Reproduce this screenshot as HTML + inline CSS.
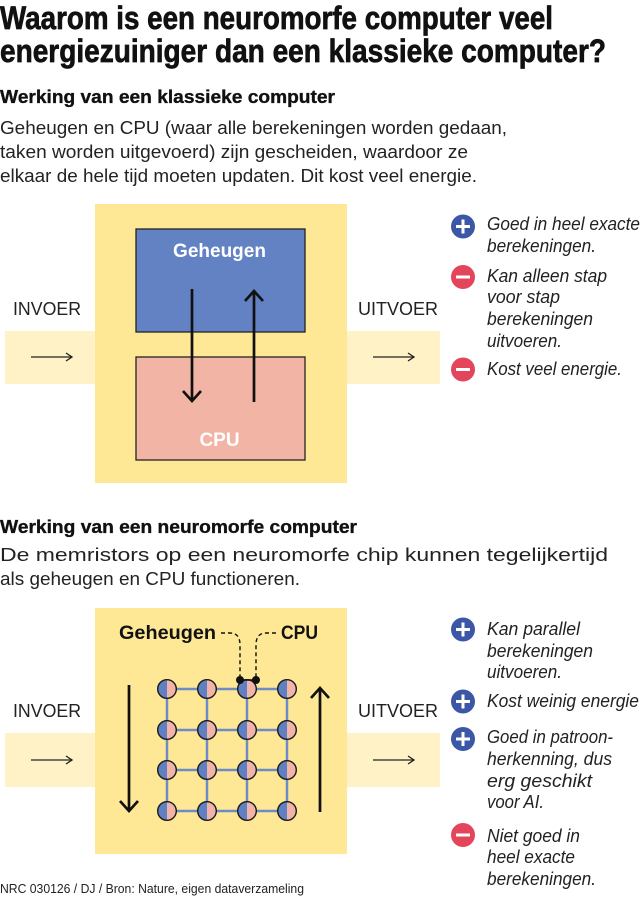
<!DOCTYPE html>
<html>
<head>
<meta charset="utf-8">
<style>
  html,body{margin:0;padding:0;background:#fff;}
  svg{display:block;}
  .t{font-family:"Liberation Sans",sans-serif;}
</style>
</head>
<body>
<svg width="640" height="897" viewBox="0 0 640 897" xmlns="http://www.w3.org/2000/svg">
  <rect width="640" height="897" fill="#ffffff"/>

  <!-- Title -->
  <text class="t" x="0" y="29" font-size="32" font-weight="bold" fill="#111" stroke="#111" stroke-width="0.7" textLength="553" lengthAdjust="spacingAndGlyphs">Waarom is een neuromorfe computer veel</text>
  <text class="t" x="0" y="62" font-size="32" font-weight="bold" fill="#111" stroke="#111" stroke-width="0.7" textLength="606" lengthAdjust="spacingAndGlyphs">energiezuiniger dan een klassieke computer?</text>

  <!-- Section 1 heading -->
  <text class="t" x="0" y="103" font-size="18.5" font-weight="bold" fill="#111" stroke="#111" stroke-width="0.35" textLength="335" lengthAdjust="spacingAndGlyphs">Werking van een klassieke computer</text>
  <text class="t" x="0" y="134" font-size="18" fill="#222" textLength="507" lengthAdjust="spacingAndGlyphs">Geheugen en CPU (waar alle berekeningen worden gedaan,</text>
  <text class="t" x="0" y="158" font-size="18" fill="#222" textLength="468" lengthAdjust="spacingAndGlyphs">taken worden uitgevoerd) zijn gescheiden, waardoor ze</text>
  <text class="t" x="0" y="182" font-size="18" fill="#222" textLength="477" lengthAdjust="spacingAndGlyphs">elkaar de hele tijd moeten updaten. Dit kost veel energie.</text>

  <!-- Classic diagram -->
  <rect x="5" y="331" width="90" height="53" fill="#fef2c6"/>
  <rect x="347" y="331" width="93" height="53" fill="#fef2c6"/>
  <rect x="95" y="204" width="252" height="279" fill="#fee895"/>

  <text class="t" x="13" y="315" font-size="18" fill="#222" textLength="68" lengthAdjust="spacingAndGlyphs">INVOER</text>
  <text class="t" x="358" y="315" font-size="18" fill="#222" textLength="80" lengthAdjust="spacingAndGlyphs">UITVOER</text>

  <g stroke="#222" stroke-width="1.3" fill="none">
    <line x1="31" y1="357" x2="72" y2="357"/>
    <polyline points="66,353 72,357 66,361"/>
    <line x1="373" y1="357" x2="414" y2="357"/>
    <polyline points="408,353 414,357 408,361"/>
  </g>

  <rect x="136" y="229" width="169" height="103" fill="#6382c4" stroke="#222" stroke-width="1.3"/>
  <rect x="136" y="357" width="169" height="103" fill="#f2b5a5" stroke="#222" stroke-width="1.3"/>
  <text class="t" x="219.5" y="257" font-size="19" font-weight="bold" fill="#fff" text-anchor="middle">Geheugen</text>
  <text class="t" x="219.5" y="446" font-size="19" font-weight="bold" fill="#fff" text-anchor="middle">CPU</text>

  <g stroke="#111" stroke-width="2.7" fill="none" stroke-linecap="butt">
    <line x1="192" y1="289" x2="192" y2="400"/>
    <polyline points="183,391 192,401 201,391" stroke-linejoin="miter"/>
    <line x1="254" y1="292" x2="254" y2="402"/>
    <polyline points="245,301 254,291 263,301" stroke-linejoin="miter"/>
  </g>

  <!-- Classic list -->
  <circle cx="463" cy="226.5" r="12" fill="#3c57a6"/>
  <rect x="456" y="225" width="14" height="3" fill="#fff"/>
  <rect x="461.5" y="219.5" width="3" height="14" fill="#fff"/>
  <text class="t" x="487" y="230" font-size="18.5" font-style="italic" fill="#222" textLength="153" lengthAdjust="spacingAndGlyphs">Goed in heel exacte</text>
  <text class="t" x="487" y="252" font-size="18.5" font-style="italic" fill="#222" textLength="109" lengthAdjust="spacingAndGlyphs">berekeningen.</text>

  <circle cx="463" cy="277" r="12" fill="#e3465b"/>
  <rect x="456" y="275.5" width="14" height="3" fill="#fff"/>
  <text class="t" x="487" y="282" font-size="18.5" font-style="italic" fill="#222" textLength="120" lengthAdjust="spacingAndGlyphs">Kan alleen stap</text>
  <text class="t" x="487" y="303" font-size="18.5" font-style="italic" fill="#222" textLength="73" lengthAdjust="spacingAndGlyphs">voor stap</text>
  <text class="t" x="487" y="325" font-size="18.5" font-style="italic" fill="#222" textLength="106" lengthAdjust="spacingAndGlyphs">berekeningen</text>
  <text class="t" x="487" y="347" font-size="18.5" font-style="italic" fill="#222" textLength="75" lengthAdjust="spacingAndGlyphs">uitvoeren.</text>

  <circle cx="463" cy="369.5" r="12" fill="#e3465b"/>
  <rect x="456" y="368" width="14" height="3" fill="#fff"/>
  <text class="t" x="487" y="375" font-size="18.5" font-style="italic" fill="#222" textLength="135" lengthAdjust="spacingAndGlyphs">Kost veel energie.</text>

  <!-- Section 2 heading -->
  <text class="t" x="0" y="533" font-size="18.5" font-weight="bold" fill="#111" stroke="#111" stroke-width="0.35" textLength="357" lengthAdjust="spacingAndGlyphs">Werking van een neuromorfe computer</text>
  <text class="t" x="0" y="561" font-size="18" fill="#222" textLength="608" lengthAdjust="spacingAndGlyphs">De memristors op een neuromorfe chip kunnen tegelijkertijd</text>
  <text class="t" x="0" y="585" font-size="18" fill="#222" textLength="300" lengthAdjust="spacingAndGlyphs">als geheugen en CPU functioneren.</text>

  <!-- Neuro diagram -->
  <rect x="5" y="733" width="90" height="54" fill="#fef2c6"/>
  <rect x="347" y="733" width="93" height="54" fill="#fef2c6"/>
  <rect x="95" y="608" width="252" height="246" fill="#fee895"/>

  <text class="t" x="13" y="717" font-size="18" fill="#222" textLength="68" lengthAdjust="spacingAndGlyphs">INVOER</text>
  <text class="t" x="358" y="717" font-size="18" fill="#222" textLength="80" lengthAdjust="spacingAndGlyphs">UITVOER</text>

  <g stroke="#222" stroke-width="1.3" fill="none">
    <line x1="31" y1="760" x2="72" y2="760"/>
    <polyline points="66,756 72,760 66,764"/>
    <line x1="373" y1="760" x2="414" y2="760"/>
    <polyline points="408,756 414,760 408,764"/>
  </g>

  <text class="t" x="119" y="639" font-size="19" font-weight="bold" fill="#111" textLength="97" lengthAdjust="spacingAndGlyphs">Geheugen</text>
  <text class="t" x="281" y="639" font-size="19" font-weight="bold" fill="#111" textLength="37" lengthAdjust="spacingAndGlyphs">CPU</text>

  <g stroke="#111" stroke-width="1.4" fill="none" stroke-dasharray="4 3">
    <path d="M221,633 L230,633 Q240,633 240,645 L240,678"/>
    <path d="M276,633 L266,633 Q256,633 256,645 L256,678"/>
  </g>

  <!-- grid lines -->
  <g stroke="#6d8bc6" stroke-width="2.5">
    <line x1="167" y1="689" x2="287" y2="689"/>
    <line x1="167" y1="730" x2="287" y2="730"/>
    <line x1="167" y1="770" x2="287" y2="770"/>
    <line x1="167" y1="811" x2="287" y2="811"/>
    <line x1="167" y1="689" x2="167" y2="811"/>
    <line x1="207" y1="689" x2="207" y2="811"/>
    <line x1="247" y1="689" x2="247" y2="811"/>
    <line x1="287" y1="689" x2="287" y2="811"/>
  </g>

  <defs>
    <g id="m">
      <path d="M0,-9.3 A9.3,9.3 0 0 0 0,9.3 Z" fill="#6080c2"/>
      <path d="M0,-9.3 A9.3,9.3 0 0 1 0,9.3 Z" fill="#f2b3a8"/>
      <circle r="9.3" fill="none" stroke="#1a1a1a" stroke-width="1.4"/>
    </g>
  </defs>
  <use href="#m" x="167" y="689"/><use href="#m" x="207" y="689"/><use href="#m" x="247" y="689"/><use href="#m" x="287" y="689"/>
  <use href="#m" x="167" y="730"/><use href="#m" x="207" y="730"/><use href="#m" x="247" y="730"/><use href="#m" x="287" y="730"/>
  <use href="#m" x="167" y="770"/><use href="#m" x="207" y="770"/><use href="#m" x="247" y="770"/><use href="#m" x="287" y="770"/>
  <use href="#m" x="167" y="811"/><use href="#m" x="207" y="811"/><use href="#m" x="247" y="811"/><use href="#m" x="287" y="811"/>

  <line x1="240" y1="680" x2="256" y2="680" stroke="#111" stroke-width="1.6"/>
  <circle cx="240" cy="680" r="4" fill="#111"/>
  <circle cx="256" cy="680" r="4" fill="#111"/>

  <g stroke="#111" stroke-width="2.7" fill="none">
    <line x1="129" y1="685" x2="129" y2="810"/>
    <polyline points="120,801 129,811 138,801"/>
    <line x1="320" y1="689" x2="320" y2="812"/>
    <polyline points="311,698 320,688 329,698"/>
  </g>

  <!-- Neuro list -->
  <circle cx="463" cy="629.5" r="12" fill="#3c57a6"/>
  <rect x="456" y="628" width="14" height="3" fill="#fff"/>
  <rect x="461.5" y="622.5" width="3" height="14" fill="#fff"/>
  <text class="t" x="487" y="635" font-size="18.5" font-style="italic" fill="#222" textLength="93" lengthAdjust="spacingAndGlyphs">Kan parallel</text>
  <text class="t" x="487" y="657" font-size="18.5" font-style="italic" fill="#222" textLength="106" lengthAdjust="spacingAndGlyphs">berekeningen</text>
  <text class="t" x="487" y="678" font-size="18.5" font-style="italic" fill="#222" textLength="75" lengthAdjust="spacingAndGlyphs">uitvoeren.</text>

  <circle cx="463" cy="701.5" r="12" fill="#3c57a6"/>
  <rect x="456" y="700" width="14" height="3" fill="#fff"/>
  <rect x="461.5" y="694.5" width="3" height="14" fill="#fff"/>
  <text class="t" x="487" y="707" font-size="18.5" font-style="italic" fill="#222" textLength="152" lengthAdjust="spacingAndGlyphs">Kost weinig energie</text>

  <circle cx="463" cy="739" r="12" fill="#3c57a6"/>
  <rect x="456" y="737.5" width="14" height="3" fill="#fff"/>
  <rect x="461.5" y="732" width="3" height="14" fill="#fff"/>
  <text class="t" x="487" y="743" font-size="18.5" font-style="italic" fill="#222" textLength="126" lengthAdjust="spacingAndGlyphs">Goed in patroon-</text>
  <text class="t" x="487" y="765" font-size="18.5" font-style="italic" fill="#222" textLength="125" lengthAdjust="spacingAndGlyphs">herkenning, dus</text>
  <text class="t" x="487" y="787" font-size="18.5" font-style="italic" fill="#222" textLength="105" lengthAdjust="spacingAndGlyphs">erg geschikt</text>
  <text class="t" x="487" y="808" font-size="18.5" font-style="italic" fill="#222" textLength="57" lengthAdjust="spacingAndGlyphs">voor AI.</text>

  <circle cx="463" cy="835" r="12" fill="#e3465b"/>
  <rect x="456" y="833.5" width="14" height="3" fill="#fff"/>
  <text class="t" x="487" y="842" font-size="18.5" font-style="italic" fill="#222" textLength="93" lengthAdjust="spacingAndGlyphs">Niet goed in</text>
  <text class="t" x="487" y="863" font-size="18.5" font-style="italic" fill="#222" textLength="88" lengthAdjust="spacingAndGlyphs">heel exacte</text>
  <text class="t" x="487" y="885" font-size="18.5" font-style="italic" fill="#222" textLength="109" lengthAdjust="spacingAndGlyphs">berekeningen.</text>

  <!-- Footer -->
  <text class="t" x="0" y="893" font-size="12.5" fill="#222" textLength="304" lengthAdjust="spacingAndGlyphs">NRC 030126 / DJ / Bron: Nature, eigen dataverzameling</text>
</svg>
</body>
</html>
